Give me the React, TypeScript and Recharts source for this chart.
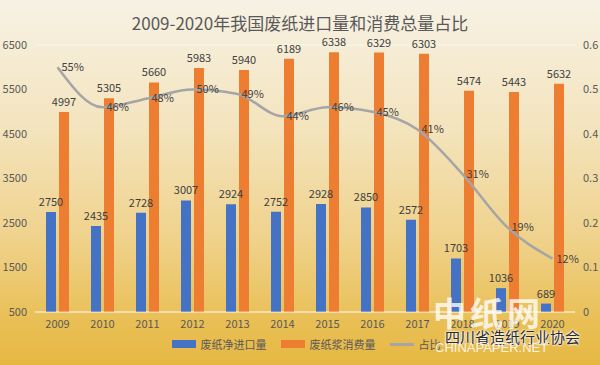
import {
  ComposedChart,
  Bar,
  Line,
  XAxis,
  YAxis,
  CartesianGrid,
  Legend,
  LabelList,
} from "recharts";

const years = ["2009", "2010", "2011", "2012", "2013", "2014", "2015", "2016", "2017", "2018", "2019", "2020"];
const netImports = [2750, 2435, 2728, 3007, 2924, 2752, 2928, 2850, 2572, 1703, 1036, 689];
const pulpConsumption = [4997, 5305, 5660, 5983, 5940, 6189, 6338, 6329, 6303, 5474, 5443, 5632];
const importShare = [0.55, 0.46, 0.48, 0.5, 0.49, 0.44, 0.46, 0.45, 0.41, 0.31, 0.19, 0.12];

const leftTicks = [500, 1500, 2500, 3500, 4500, 5500, 6500];
const rightTicks = [0, 0.1, 0.2, 0.3, 0.4, 0.5, 0.6];

const data = years.map((year, i) => ({
  year,
  netImports: netImports[i],
  pulpConsumption: pulpConsumption[i],
  importShare: importShare[i],
}));

const font = '"Noto Sans CJK SC", "Noto Sans", sans-serif';
const textColor = "#595959";

const LegendContent = () => (
  <div
    style={{
      display: "flex",
      justifyContent: "center",
      alignItems: "center",
      fontSize: 11,
      color: textColor,
      fontFamily: font,
      height: 20,
      paddingLeft: 12,
    }}
  >
    <span style={{ width: 24, height: 8, background: "#4472c4", marginRight: 5 }} />
    <span style={{ marginRight: 14 }}>废纸净进口量</span>
    <span style={{ width: 24, height: 8, background: "#ed7d31", marginRight: 5 }} />
    <span style={{ marginRight: 14 }}>废纸浆消费量</span>
    <span style={{ width: 24, height: 3, background: "#a5a5a5", marginRight: 5 }} />
    <span>占比</span>
  </div>
);

export default function App() {
  return (
    <div
      style={{
        position: "absolute",
        left: 0,
        top: 0,
        width: 600,
        height: 365,
        overflow: "hidden",
        fontFamily: font,
        background:
          "linear-gradient(to bottom, #f7f2e5 0%, #f4e4bd 35%, #efd28c 65%, #e9bf55 88%, #e6b742 100%)",
      }}
    >
      <div
        style={{
          position: "absolute",
          top: 10,
          width: 600,
          textAlign: "center",
          fontSize: 17,
          color: textColor,
        }}
      >
        2009-2020年我国废纸进口量和消费总量占比
      </div>
      <ComposedChart
        width={600}
        height={365}
        data={data}
        margin={{ top: 45, right: 0, left: 0, bottom: 11 }}
        barSize={10}
        barGap={3}
      >
        <CartesianGrid vertical={false} stroke="rgba(255,255,255,0.55)" />
        <XAxis
          dataKey="year"
          axisLine={{ stroke: "rgba(255,255,255,0.6)" }}
          tickLine={false}
          height={22}
          tick={{ fontSize: 11, fill: textColor }}
        />
        <YAxis
          yAxisId="left"
          width={35}
          domain={[500, 6500]}
          ticks={leftTicks}
          axisLine={false}
          tickLine={false}
          tick={{ fontSize: 11, fill: textColor }}
        />
        <YAxis
          yAxisId="right"
          orientation="right"
          width={25}
          domain={[0, 0.6]}
          ticks={rightTicks}
          axisLine={false}
          tickLine={false}
          tick={{ fontSize: 11, fill: textColor }}
        />
        <Legend verticalAlign="bottom" wrapperStyle={{ height: 20 }} content={<LegendContent />} />
        <Bar yAxisId="left" dataKey="netImports" name="废纸净进口量" fill="#4472c4" isAnimationActive={false}>
          <LabelList dataKey="netImports" position="top" offset={6} style={{ fontSize: 11, fill: "#404040" }} />
        </Bar>
        <Bar yAxisId="left" dataKey="pulpConsumption" name="废纸浆消费量" fill="#ed7d31" isAnimationActive={false}>
          <LabelList dataKey="pulpConsumption" position="top" offset={6} style={{ fontSize: 11, fill: "#404040" }} />
        </Bar>
        <Line
          yAxisId="right"
          type="monotone"
          dataKey="importShare"
          name="占比"
          stroke="#a5a5a5"
          strokeWidth={2.5}
          dot={false}
          isAnimationActive={false}
        >
          <LabelList
            dataKey="importShare"
            position="right"
            offset={4}
            formatter={(v: any) => `${Math.round(Number(v) * 100)}%`}
            style={{ fontSize: 11, fill: "#404040" }}
          />
        </Line>
      </ComposedChart>
      <div
        style={{
          position: "absolute",
          left: 433,
          top: 292,
          fontSize: 33,
          lineHeight: "40px",
          fontWeight: "bold",
          color: "rgba(255,255,255,0.8)",
          letterSpacing: 4,
        }}
      >
        中纸网
      </div>
      <div
        style={{
          position: "absolute",
          left: 445,
          top: 327,
          fontSize: 15,
          lineHeight: "20px",
          color: "#2a2a2a",
          textShadow: "0 0 2px #fff, 0 0 2px #fff, 0 0 3px #fff",
        }}
      >
        四川省造纸行业协会
      </div>
      <div
        style={{
          position: "absolute",
          left: 435,
          top: 340,
          fontSize: 13,
          lineHeight: "16px",
          color: "rgba(255,255,255,0.85)",
          fontFamily: '"Liberation Sans", sans-serif',
        }}
      >
        CHINAPAPER.NET
      </div>
    </div>
  );
}
